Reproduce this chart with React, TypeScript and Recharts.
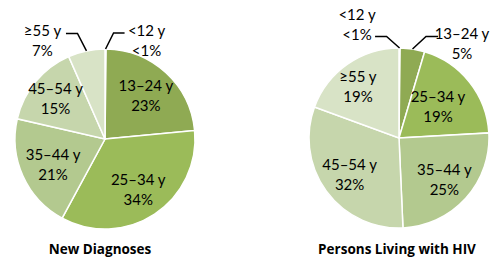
import { PieChart, Pie, Cell } from "recharts";

const ageGroups = ["<12 y", "13–24 y", "25–34 y", "35–44 y", "45–54 y", "≥55 y"];
const newDiagnoses = [0.2, 23.3, 34.4, 20.7, 14.8, 6.6];
const newDiagnosesLabels = ["<1%", "23%", "34%", "21%", "15%", "7%"];
const livingWithHiv = [0.2, 4.4, 19.5, 25.2, 31.3, 19.4];
const livingWithHivLabels = ["<1%", "5%", "19%", "25%", "32%", "19%"];

const colors = ["#7f9b49", "#8faa53", "#9bbb59", "#b3c98f", "#c6d6ac", "#d8e3c6"];

const leftData = ageGroups.map((name, i) => ({ name, value: newDiagnoses[i], pct: newDiagnosesLabels[i] }));
const rightData = ageGroups.map((name, i) => ({ name, value: livingWithHiv[i], pct: livingWithHivLabels[i] }));

const RAD = Math.PI / 180;
const FONT = "Lato, 'Noto Sans', sans-serif";
const FS = 15;

type Leader = { dx: number; dy: number; run: number; tx: number; ty: number };
type Nudge = { dx: number; dy: number };

// outside labels with elbow leader lines, relative to the slice edge
const leftLeaders: Record<string, Leader> = {
  "<12 y": { dx: 8, dy: -16, run: 11, tx: 22, ty: -3 },
  "≥55 y": { dx: -9, dy: -17.5, run: -11.5, tx: -23.5, ty: -3 },
};
const rightLeaders: Record<string, Leader> = {
  "<12 y": { dx: -13, dy: -11.5, run: -11.5, tx: -18, ty: -22.5 },
  "13–24 y": { dx: 13.5, dy: -12.5, run: 12, tx: 24, ty: -3.5 },
};
const leftNudges: Record<string, Nudge> = {
  "35–44 y": { dx: 3, dy: 0 },
  "45–54 y": { dx: -3, dy: -3 },
};
const rightNudges: Record<string, Nudge> = {
  "25–34 y": { dx: -9, dy: 6 },
  "≥55 y": { dx: -6, dy: -2 },
};

function Lines({ x, y, a, b }: { x: number; y: number; a: string; b: string }) {
  return (
    <>
      <text x={x} y={y} textAnchor="middle" dominantBaseline="central" fontSize={FS} fontFamily={FONT} fill="#000">
        {a}
      </text>
      <text x={x} y={y + 20} textAnchor="middle" dominantBaseline="central" fontSize={FS} fontFamily={FONT} fill="#000">
        {b}
      </text>
    </>
  );
}

function makeLabel(leaders: Record<string, Leader>, nudges: Record<string, Nudge>, frac: number) {
  return (props: any) => {
    const { cx, cy, midAngle, outerRadius, payload, index } = props;
    const name = payload.name;
    const pct = payload.pct;
    const cos = Math.cos(-midAngle * RAD);
    const sin = Math.sin(-midAngle * RAD);
    const ld = leaders[name];
    if (ld) {
      const ex = cx + outerRadius * cos;
      const ey = cy + outerRadius * sin;
      const bx = ex + ld.dx;
      const by = ey + ld.dy;
      const endX = bx + ld.run;
      return (
        <g key={`l-${index}`}>
          <polyline
            points={`${ex},${ey} ${bx},${by} ${endX},${by}`}
            fill="none"
            stroke="#000"
            strokeWidth={1.5}
          />
          <Lines x={endX + ld.tx} y={by + ld.ty} a={name} b={pct} />
        </g>
      );
    }
    const r = outerRadius * frac;
    const n = nudges[name] || { dx: 0, dy: 0 };
    const x = cx + r * cos + n.dx;
    const y = cy + r * sin + n.dy;
    return (
      <g key={`l-${index}`}>
        <Lines x={x} y={y - 10} a={name} b={pct} />
      </g>
    );
  };
}

export default function App() {
  return (
    <div style={{ position: "absolute", left: 0, top: 0, width: 490, height: 261, background: "#fff" }}>
      <PieChart width={490} height={261}>
        <Pie
          data={leftData}
          dataKey="value"
          cx={100}
          cy={134}
          outerRadius={90}
          startAngle={90}
          endAngle={-270}
          stroke="#fff"
          strokeWidth={1.5}
          label={makeLabel(leftLeaders, leftNudges, 0.67)}
          labelLine={false}
          isAnimationActive={false}
        >
          {leftData.map((d, i) => (
            <Cell key={d.name} fill={colors[i]} />
          ))}
        </Pie>
        <Pie
          data={rightData}
          dataKey="value"
          cx={394}
          cy={133}
          outerRadius={90}
          startAngle={90}
          endAngle={-270}
          stroke="#fff"
          strokeWidth={1.5}
          label={makeLabel(rightLeaders, rightNudges, 0.68)}
          labelLine={false}
          isAnimationActive={false}
        >
          {rightData.map((d, i) => (
            <Cell key={d.name} fill={colors[i]} />
          ))}
        </Pie>
        <text x={100} y={249} textAnchor="middle" dominantBaseline="central" fontSize={13.5} fontWeight="bold" fontFamily="'Open Sans', sans-serif" fill="#000">
          New Diagnoses
        </text>
        <text x={397} y={249} textAnchor="middle" dominantBaseline="central" fontSize={13.5} fontWeight="bold" fontFamily="'Open Sans', sans-serif" fill="#000">
          Persons Living with HIV
        </text>
      </PieChart>
    </div>
  );
}
